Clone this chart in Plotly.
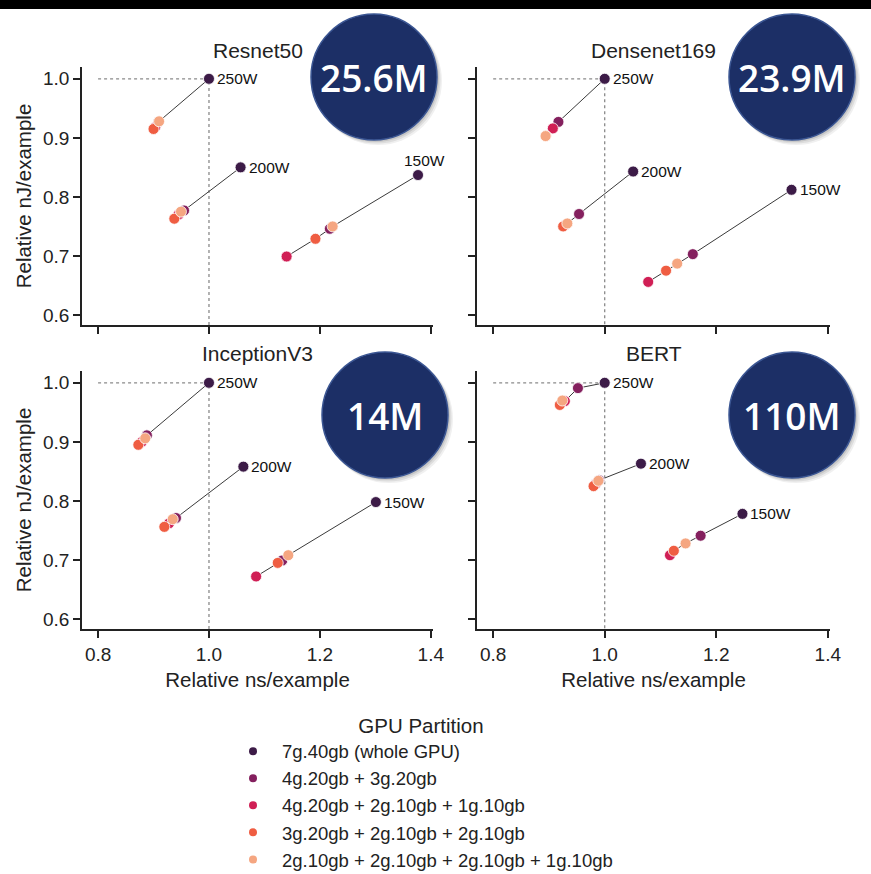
import plotly.graph_objects as go

W, H = 871, 874

models = ["Resnet50", "Densenet169", "InceptionV3", "BERT"]
param_labels = ["25.6M", "23.9M", "14M", "110M"]
powers = ["250W", "200W", "150W"]
partitions = [
    "7g.40gb (whole GPU)",
    "4g.20gb + 3g.20gb",
    "4g.20gb + 2g.10gb + 1g.10gb",
    "3g.20gb + 2g.10gb + 2g.10gb",
    "2g.10gb + 2g.10gb + 2g.10gb + 1g.10gb",
]
colors = ["#3c1b47", "#84205e", "#d01f55", "#ef5d42", "#f5a681"]

x_ticks = [0.8, 1.0, 1.2, 1.4]
y_ticks = [0.6, 0.7, 0.8, 0.9, 1.0]

# Relative ns/example (x) and nJ/example (y) per partition, for each power cap
resnet50_ns = {"250W": [1.000, 0.909, 0.903, 0.900, 0.910],
               "200W": [1.057, 0.955, 0.945, 0.9375, 0.9495],
               "150W": [1.377, 1.218, 1.140, 1.192, 1.223]}
resnet50_nj = {"250W": [1.000, 0.927, 0.918, 0.915, 0.928],
               "200W": [0.850, 0.777, 0.770, 0.763, 0.775],
               "150W": [0.837, 0.746, 0.699, 0.729, 0.750]}

densenet169_ns = {"250W": [1.000, 0.917, 0.907, 0.8945, 0.894],
                  "200W": [1.051, 0.954, 0.930, 0.9255, 0.933],
                  "150W": [1.335, 1.158, 1.078, 1.110, 1.130]}
densenet169_nj = {"250W": [1.000, 0.927, 0.916, 0.9035, 0.903],
                  "200W": [0.843, 0.771, 0.753, 0.750, 0.755],
                  "150W": [0.812, 0.703, 0.656, 0.675, 0.687]}

inceptionv3_ns = {"250W": [1.000, 0.888, 0.879, 0.8726, 0.885],
                  "200W": [1.062, 0.9405, 0.928, 0.9195, 0.9346],
                  "150W": [1.301, 1.132, 1.085, 1.124, 1.143]}
inceptionv3_nj = {"250W": [1.000, 0.911, 0.900, 0.895, 0.906],
                  "200W": [0.858, 0.771, 0.762, 0.756, 0.769],
                  "150W": [0.798, 0.699, 0.672, 0.695, 0.708]}

bert_ns = {"250W": [1.000, 0.952, 0.9285, 0.9195, 0.924],
           "200W": [1.065, 0.990, 0.984, 0.980, 0.9886],
           "150W": [1.247, 1.172, 1.117, 1.124, 1.145]}
bert_nj = {"250W": [1.000, 0.991, 0.969, 0.9625, 0.970],
           "200W": [0.863, 0.835, 0.829, 0.825, 0.834],
           "150W": [0.778, 0.741, 0.708, 0.7155, 0.728]}

data_ns = [resnet50_ns, densenet169_ns, inceptionv3_ns, bert_ns]
data_nj = [resnet50_nj, densenet169_nj, inceptionv3_nj, bert_nj]

# label offsets (style): (xshift, yshift, xanchor)
label_style = {(0, "150W"): (-16, 15, "left")}

FONT = "Liberation Sans, Arial, sans-serif"
INK = "#222222"

# Panel geometry in pixels
col_px = [(82, 433), (477, 830)]
row_px = [(67, 325), (371, 629)]
xr = [0.771, 1.404]
yr = [0.583, 1.020]

fig = go.Figure()
layout = dict(width=W, height=H, margin=dict(l=0, r=0, t=0, b=0, autoexpand=False),
              paper_bgcolor="white", plot_bgcolor="white",
              font=dict(family=FONT, size=19, color=INK), showlegend=True)

for i, model in enumerate(models):
    r, c = divmod(i, 2)
    n = i + 1
    xa = "x" if n == 1 else f"x{n}"
    ya = "y" if n == 1 else f"y{n}"
    xkey = "xaxis" if n == 1 else f"xaxis{n}"
    ykey = "yaxis" if n == 1 else f"yaxis{n}"
    x0, x1 = col_px[c]
    y0, y1 = row_px[r]
    layout[xkey] = dict(domain=[x0 / W, x1 / W], anchor=ya, range=xr, automargin=False,
                        tickvals=x_ticks, tickformat=".1f",
                        showticklabels=(r == 1), ticks="outside", ticklen=7,
                        tickwidth=1.5, tickcolor=INK, showline=True, linewidth=1.6,
                        linecolor=INK, showgrid=False, zeroline=False,
                        tickfont=dict(size=19, color=INK),
                        title=dict(text="Relative ns/example" if r == 1 else "",
                                   font=dict(size=20.5, color=INK), standoff=9))
    layout[ykey] = dict(domain=[1 - y1 / H, 1 - y0 / H], anchor=xa, range=yr, automargin=False,
                        tickvals=y_ticks, tickformat=".1f",
                        showticklabels=(c == 0), ticks="outside", ticklen=7,
                        tickwidth=1.5, tickcolor=INK, showline=True, linewidth=1.6,
                        linecolor=INK, showgrid=False, zeroline=False,
                        tickfont=dict(size=19, color=INK),
                        title=dict(text="Relative nJ/example" if c == 0 else "",
                                   font=dict(size=20.5, color=INK), standoff=6))

    # reference dotted lines
    fig.add_trace(go.Scatter(x=[x_ticks[0], 1.0, 1.0], y=[1.0, 1.0, yr[0] - 0.05],
                             mode="lines", line=dict(color="#8a8a8a", width=1.3, dash="dot"),
                             xaxis=xa, yaxis=ya, showlegend=False, hoverinfo="skip"))
    # connecting lines per power
    for p in powers:
        pts = sorted(zip(data_ns[i][p], data_nj[i][p]))
        fig.add_trace(go.Scatter(x=[q[0] for q in pts], y=[q[1] for q in pts],
                                 mode="lines", line=dict(color="#3a3a3a", width=1),
                                 xaxis=xa, yaxis=ya, showlegend=False, hoverinfo="skip"))
    # points per partition
    for k, part in enumerate(partitions):
        fig.add_trace(go.Scatter(
            x=[data_ns[i][p][k] for p in powers],
            y=[data_nj[i][p][k] for p in powers],
            mode="markers", name=part, legendgroup=part,
            marker=dict(size=11, color=colors[k], line=dict(color="white", width=0.8)),
            xaxis=xa, yaxis=ya, showlegend=False))

# legend entries (smaller symbols, as in the reference)
for k, part in enumerate(partitions):
    fig.add_trace(go.Scatter(x=[None], y=[None], mode="markers", name=part,
                             legendgroup=part,
                             marker=dict(size=8, color=colors[k]),
                             xaxis="x", yaxis="y", showlegend=True))

annotations = []
for i, model in enumerate(models):
    r, c = divmod(i, 2)
    n = i + 1
    xa = "x" if n == 1 else f"x{n}"
    ya = "y" if n == 1 else f"y{n}"
    x0, x1 = col_px[c]
    y0, y1 = row_px[r]
    annotations.append(dict(text=model, xref="paper", yref="paper",
                            x=(x0 + x1) / 2 / W, y=1 - (y0 - 17) / H,
                            showarrow=False, xanchor="center", yanchor="middle",
                            font=dict(size=21, color=INK)))
    for p in powers:
        xs, ys, xan = label_style.get((i, p), (6, 0, "left"))
        annotations.append(dict(text=p, x=data_ns[i][p][0], y=data_nj[i][p][0],
                                xref=xa, yref=ya, showarrow=False, xanchor=xan,
                                yanchor="middle", xshift=xs, yshift=ys,
                                font=dict(size=15.5, color="#111111")))

# decorative parameter-count badges (pixel geometry)
badges = [(374, 77, 63), (792, 77, 63), (385, 415, 63), (792, 415, 63)]
shapes = [dict(type="rect", xref="paper", yref="paper", x0=0, x1=1,
               y0=1 - 9 / H, y1=1, fillcolor="black", line=dict(width=0), layer="above")]
for (cx, cy, rad), lab in zip(badges, param_labels):
    for off, op in [(5, 0.06), (3.5, 0.08), (2, 0.1)]:
        shapes.append(dict(type="circle", xref="paper", yref="paper",
                           x0=(cx - rad + off * 0.6) / W, x1=(cx + rad + off) / W,
                           y0=1 - (cy + rad + off) / H, y1=1 - (cy - rad + off * 0.6) / H,
                           fillcolor=f"rgba(0,0,0,{op})", line=dict(width=0), layer="above"))
    shapes.append(dict(type="circle", xref="paper", yref="paper",
                       x0=(cx - rad) / W, x1=(cx + rad) / W,
                       y0=1 - (cy + rad) / H, y1=1 - (cy - rad) / H,
                       fillcolor="#1c2f66", line=dict(color="#3b5693", width=1.5),
                       layer="above"))
    annotations.append(dict(text=lab, xref="paper", yref="paper", x=cx / W, y=1 - cy / H,
                            showarrow=False, xanchor="center", yanchor="middle",
                            font=dict(family="Open Sans, Lato, sans-serif", size=37,
                                      color="white", weight=600)))

layout["shapes"] = shapes
layout["annotations"] = annotations
layout["legend"] = dict(x=224 / W, y=1 - 706 / H, xanchor="left", yanchor="top",
                        bgcolor="rgba(0,0,0,0)", font=dict(size=18.5, color=INK),
                        title=dict(text="GPU Partition", side="top center",
                                   font=dict(size=20.5, color=INK)),
                        tracegroupgap=0, itemwidth=48)

fig.update_layout(**layout)
fig.write_html(
    "out.html",
    config={"displayModeBar": False},
    post_script=("document.documentElement.style.overflow='hidden';"
                 "document.body.style.overflow='hidden';"
                 "document.body.style.margin='0';document.body.style.padding='0';"),
)
